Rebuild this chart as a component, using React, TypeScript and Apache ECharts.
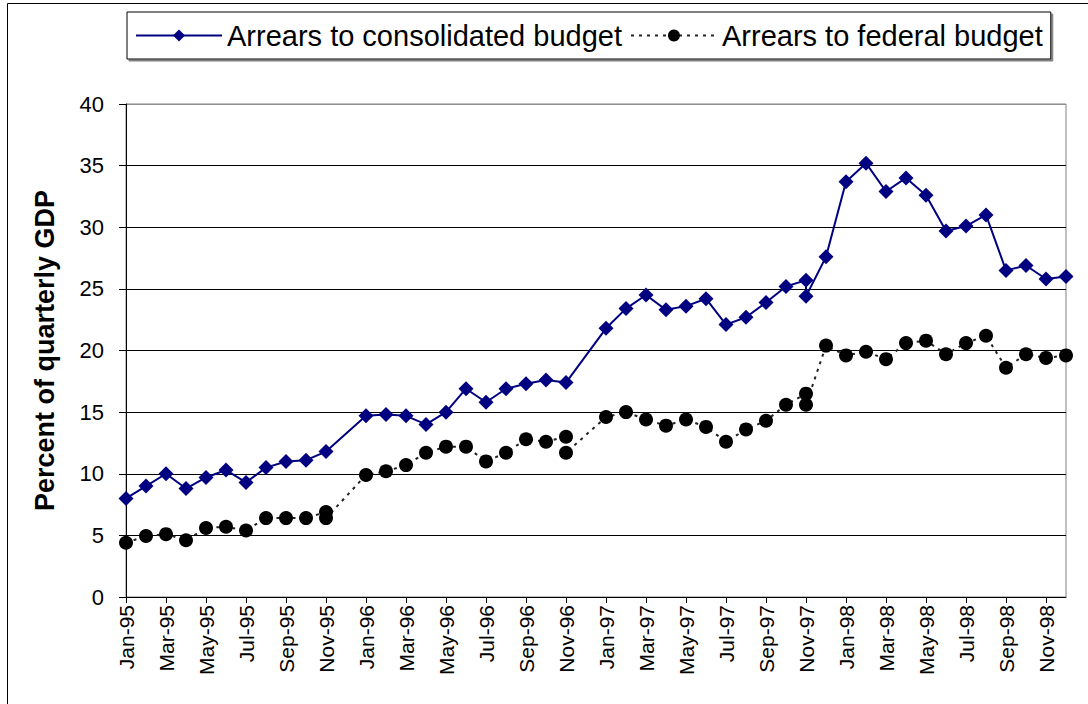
import React, { useEffect, useRef } from "react";
import * as echarts from "echarts";

const monthNames = ["Jan", "Feb", "Mar", "Apr", "May", "Jun", "Jul", "Aug", "Sep", "Oct", "Nov", "Dec"];
const years = ["95", "96", "97", "98"];
const categories: string[] = [];
years.forEach((y) => monthNames.forEach((m) => categories.push(`${m}-${y}`)));

const yTicks = { min: 0, max: 40, interval: 5 };

const consolidatedName = "Arrears to consolidated budget";
const consolidatedDates = [
  "Jan-95", "Feb-95", "Mar-95", "Apr-95", "May-95", "Jun-95", "Jul-95", "Aug-95", "Sep-95", "Oct-95", "Nov-95",
  "Jan-96", "Feb-96", "Mar-96", "Apr-96", "May-96", "Jun-96", "Jul-96", "Aug-96", "Sep-96", "Oct-96", "Nov-96",
  "Jan-97", "Feb-97", "Mar-97", "Apr-97", "May-97", "Jun-97", "Jul-97", "Aug-97", "Sep-97", "Oct-97", "Nov-97", "Nov-97", "Dec-97",
  "Jan-98", "Feb-98", "Mar-98", "Apr-98", "May-98", "Jun-98", "Jul-98", "Aug-98", "Sep-98", "Oct-98", "Nov-98", "Dec-98",
];
const consolidatedValues = [
  8.0, 9.0, 10.0, 8.8, 9.7, 10.3, 9.3, 10.5, 11.0, 11.1, 11.8,
  14.7, 14.8, 14.7, 14.0, 15.0, 16.9, 15.8, 16.9, 17.3, 17.6, 17.4,
  21.8, 23.4, 24.5, 23.3, 23.6, 24.2, 22.1, 22.7, 23.9, 25.2, 25.7, 24.4, 27.6,
  33.7, 35.2, 32.9, 34.0, 32.6, 29.7, 30.1, 31.0, 26.5, 26.9, 25.8, 26.0,
];

const federalName = "Arrears to federal budget";
const federalDates = [
  "Jan-95", "Feb-95", "Mar-95", "Apr-95", "May-95", "Jun-95", "Jul-95", "Aug-95", "Sep-95", "Oct-95", "Nov-95", "Nov-95",
  "Jan-96", "Feb-96", "Mar-96", "Apr-96", "May-96", "Jun-96", "Jul-96", "Aug-96", "Sep-96", "Oct-96", "Nov-96", "Nov-96",
  "Jan-97", "Feb-97", "Mar-97", "Apr-97", "May-97", "Jun-97", "Jul-97", "Aug-97", "Sep-97", "Oct-97", "Nov-97", "Nov-97", "Dec-97",
  "Jan-98", "Feb-98", "Mar-98", "Apr-98", "May-98", "Jun-98", "Jul-98", "Aug-98", "Sep-98", "Oct-98", "Nov-98", "Dec-98",
];
const federalValues = [
  4.4, 4.95, 5.1, 4.6, 5.6, 5.7, 5.4, 6.4, 6.4, 6.4, 6.9, 6.4,
  9.9, 10.2, 10.7, 11.7, 12.2, 12.2, 11.0, 11.7, 12.8, 12.6, 13.0, 11.7,
  14.6, 15.0, 14.4, 13.9, 14.4, 13.8, 12.6, 13.6, 14.3, 15.6, 16.5, 15.6, 20.4,
  19.6, 19.9, 19.3, 20.6, 20.8, 19.7, 20.6, 21.2, 18.6, 19.7, 19.4, 19.6,
];

const yTitle = "Percent of quarterly GDP";
const FONT = "'Liberation Sans', Arial, sans-serif";

export default function App() {
  const ref = useRef<HTMLDivElement>(null);
  useEffect(() => {
    if (!ref.current) return;
    const chart = echarts.init(ref.current, undefined, { renderer: "svg" });
    const consData = consolidatedDates.map((d, i) => [d, consolidatedValues[i]]);
    const fedData = federalDates.map((d, i) => [d, federalValues[i]]);
    chart.setOption({
      animation: false,
      backgroundColor: "#fff",
      textStyle: { fontFamily: FONT },
      graphic: [
        { type: "line", shape: { x1: 7.5, y1: 3.5, x2: 1088, y2: 3.5 }, style: { stroke: "#000", lineWidth: 1 } },
        { type: "line", shape: { x1: 7.5, y1: 3.5, x2: 7.5, y2: 704 }, style: { stroke: "#000", lineWidth: 1 } },
      ],
      legend: {
        left: 127,
        top: 12,
        itemWidth: 86,
        itemHeight: 15,
        itemGap: 8,
        padding: [9, 8, 9, 8],
        borderColor: "#000",
        borderWidth: 1,
        backgroundColor: "#fff",
        shadowColor: "#808080",
        shadowOffsetX: 2,
        shadowOffsetY: 2,
        shadowBlur: 0,
        textStyle: { fontSize: 29, fontFamily: FONT, color: "#000" },
        data: [consolidatedName, federalName],
      },
      grid: {
        left: 126,
        top: 104,
        right: 22,
        bottom: 107,
        show: true,
        borderColor: "#808080",
        borderWidth: 1,
        backgroundColor: "transparent",
      },
      xAxis: {
        type: "category",
        data: categories,
        boundaryGap: false,
        axisLine: { show: true, lineStyle: { color: "#000", width: 1 } },
        axisTick: { show: true, interval: 1, length: 6, lineStyle: { color: "#000" } },
        axisLabel: { interval: 1, rotate: 90, fontSize: 21, margin: 8, color: "#000", fontFamily: FONT },
        splitLine: { show: false },
      },
      yAxis: {
        type: "value",
        min: yTicks.min,
        max: yTicks.max,
        interval: yTicks.interval,
        name: yTitle,
        nameLocation: "middle",
        nameGap: 68,
        nameRotate: 90,
        nameTextStyle: { fontSize: 27, fontWeight: "bold", color: "#000", fontFamily: FONT },
        axisLine: { show: true, lineStyle: { color: "#000", width: 1 } },
        axisTick: { show: true, length: 7, lineStyle: { color: "#000" } },
        axisLabel: { fontSize: 22, margin: 22, color: "#000", fontFamily: FONT },
        splitLine: {
          show: true,
          lineStyle: { color: ["#000", "#000", "#000", "#000", "#000", "#000", "#000", "#000", "#909090"], width: 1 },
        },
      },
      series: [
        {
          type: "line",
          name: consolidatedName,
          data: consData,
          symbol: "diamond",
          symbolSize: 15,
          showAllSymbol: true,
          itemStyle: { color: "#000080" },
          lineStyle: { color: "#000080", width: 2 },
        },
        {
          type: "line",
          name: federalName,
          data: fedData,
          symbol: "circle",
          symbolSize: 14,
          showAllSymbol: true,
          itemStyle: { color: "#000" },
          lineStyle: { color: "#222", width: 2, type: [3, 5] },
        },
      ],
    });
    return () => chart.dispose();
  }, []);
  return (
    <div
      ref={ref}
      style={{ position: "fixed", left: 0, top: 0, width: 1088, height: 704 }}
    />
  );
}
